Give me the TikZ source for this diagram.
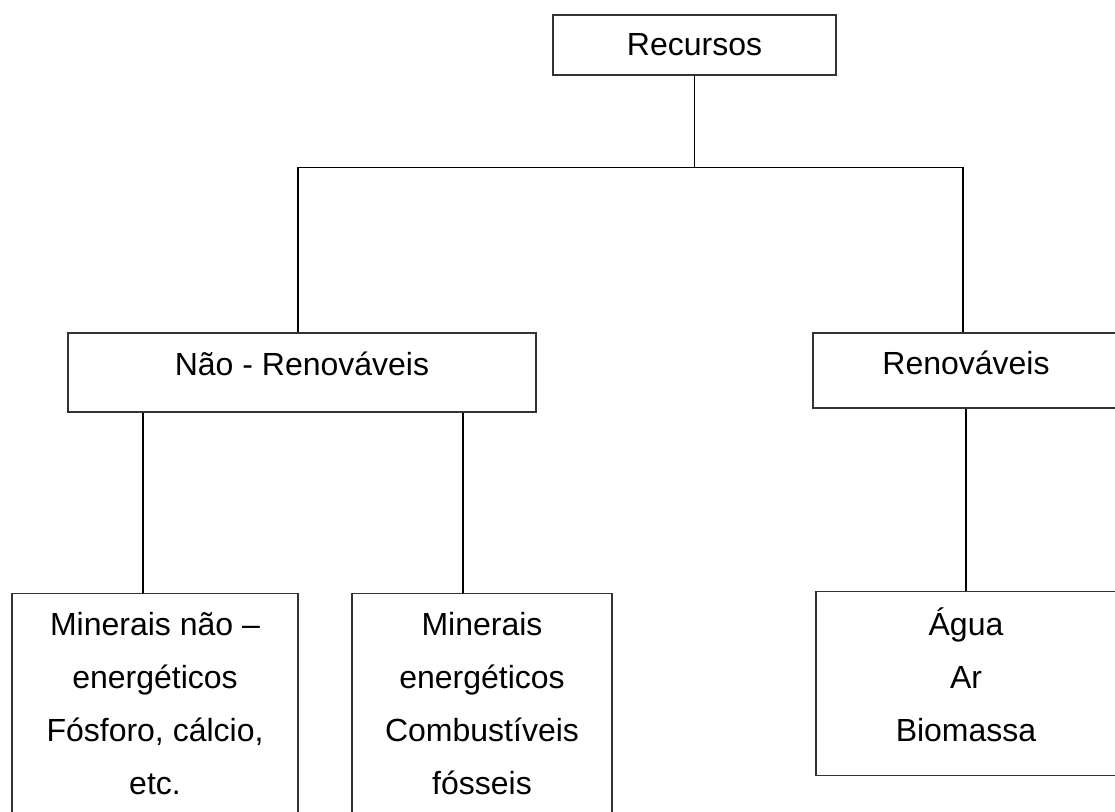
\documentclass[tikz,border=0pt]{standalone}
\usepackage{fontspec}
\setmainfont{Liberation Sans}
\usepackage{tikz}
\usetikzlibrary{positioning}

\newcommand{\padbelow}[1]{\rule[-#1]{0pt}{0pt}}

\begin{document}
\begin{tikzpicture}[x=0.5pt, y=-0.5pt,
  box/.style={rectangle, draw=black!80, line width=0.55pt, inner sep=0pt, font=\fontsize{16}{26.5}\selectfont},
  list/.style={box, align=center, anchor=north},
  line/.style={draw, line width=0.75pt}]

  \useasboundingbox[fill=white] (0,0) rectangle (1115,811);

  \node [box, minimum width=141.5pt, minimum height=30pt] (rec) at (694.5,45) {Recursos};
  \node [box, minimum width=234pt, minimum height=39.5pt, text depth=9pt] (nrn) at (302,372.5) {Não - Renováveis};
  \node [box, minimum width=153pt, minimum height=37.5pt, text depth=7.5pt] (ren) at (966,370.5) {Renováveis};

  \node [list, minimum width=143pt, minimum height=110pt] (mne) at (155,593) {Minerais não –\\ energéticos\\ Fósforo, cálcio,\\ etc.};
  \node [list, minimum width=130pt, minimum height=110pt] (men) at (482,593) {Minerais\\ energéticos\\ Combustíveis\\ fósseis};
  \node [list, minimum width=150pt, minimum height=92pt] (agua) at (966,591) {Água\\ Ar\\ Biomassa\padbelow{9pt}};

  \coordinate (hub) at ([yshift=-46pt]rec.south);
  \coordinate (k0) at ([xshift=-2pt]nrn.north);
  \coordinate (k1) at ([xshift=-6pt]mne.north);
  \coordinate (k2) at ([xshift=-9.5pt]men.north);
  \coordinate (k3) at ([xshift=-1.5pt]ren.north);

  \path [line] (rec) -- (hub);
  \path [line] (hub) -| (k0);
  \path [line] (hub) -| (k3);
  \path [line] (nrn.south -| k1) -- (k1);
  \path [line] (nrn.south -| k2) -- (k2);
  \path [line] (ren) -- (agua);
\end{tikzpicture}
\end{document}
